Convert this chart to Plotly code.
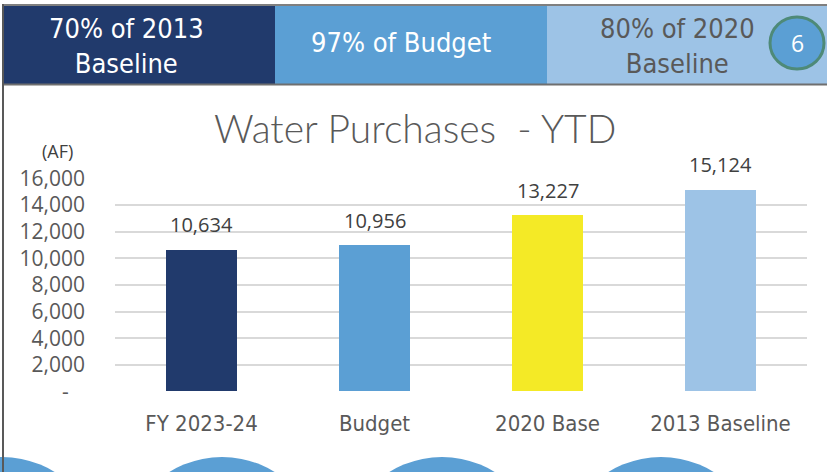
import plotly.graph_objects as go

categories = ["FY 2023-24", "Budget", "2020 Base", "2013 Baseline"]
values = [10634, 10956, 13227, 15124]
bar_colors = ["#213A6C", "#5B9FD4", "#F4EA26", "#9DC3E6"]
tick_vals = [0, 2000, 4000, 6000, 8000, 10000, 12000, 14000, 16000]
tick_text = ["-\u00a0\u00a0\u00a0", "2,000", "4,000", "6,000", "8,000", "10,000", "12,000", "14,000", "16,000"]
header_texts = ["70% of 2013<br>Baseline", "97% of Budget", "80% of 2020<br>Baseline"]
title_text = "Water Purchases  - YTD"
unit_text = "(AF)"
badge_text = "6"

W, H = 827, 472
def px(x):
    return x / W
def py(y):
    return 1 - y / H

NUM_FONT = "Open Sans, Lato, sans-serif"
NARROW = "Liberation Sans Narrow, DejaVu Sans Condensed, Arial Narrow, Open Sans, sans-serif"

fig = go.Figure()
fig.add_trace(go.Bar(
    x=categories, y=values, marker=dict(color=bar_colors, line=dict(width=0)),
    width=0.405, hoverinfo="skip", showlegend=False,
))

annotations = []
for c, v in zip(categories, values):
    annotations.append(dict(x=c, y=v, xref="x", yref="y", text=f"{v:,}", showarrow=False,
                            yanchor="middle", yshift=25,
                            font=dict(family=NUM_FONT, size=20, color="#404040")))

shapes = []
box_edges = [3, 275, 547, 827]
box_colors = ["#213A6C", "#5B9FD4", "#9DC3E6"]
text_colors = ["#FFFFFF", "#FFFFFF", "#595959"]
for i in range(3):
    shapes.append(dict(type="rect", xref="paper", yref="paper",
                       x0=px(box_edges[i]), x1=px(box_edges[i + 1]), y0=py(84), y1=py(6),
                       fillcolor=box_colors[i], line=dict(width=0), layer="below"))
centers = [127, 401, 677]
ycent = [46, 43, 46]
for i in range(3):
    annotations.append(dict(x=px(centers[i]), y=py(ycent[i]), xref="paper", yref="paper",
                            text=header_texts[i], showarrow=False, xanchor="center", yanchor="middle",
                            font=dict(family=NARROW, size=27, color=text_colors[i])))
shapes.append(dict(type="line", xref="paper", yref="paper", x0=px(3), x1=1, y0=py(5), y1=py(5),
                   line=dict(color="#7F7F7F", width=2)))
shapes.append(dict(type="line", xref="paper", yref="paper", x0=px(3), x1=1, y0=py(84.5), y1=py(84.5),
                   line=dict(color="#6F6F6F", width=2)))
shapes.append(dict(type="line", xref="paper", yref="paper", x0=px(3), x1=px(3), y0=py(4), y1=0,
                   line=dict(color="#595959", width=2)))
shapes.append(dict(type="circle", xref="paper", yref="paper",
                   x0=px(770), x1=px(824), y0=py(69), y1=py(17),
                   fillcolor="#5B9FD4", line=dict(color="#4E8A78", width=3)))
annotations.append(dict(x=px(797), y=py(43), xref="paper", yref="paper", text=badge_text,
                        showarrow=False, xanchor="center", yanchor="middle",
                        font=dict(family=NUM_FONT, size=23, color="#FFFFFF")))
for cx in [2, 222, 442, 661, 881]:
    shapes.append(dict(type="circle", xref="paper", yref="paper",
                       x0=px(cx - 100), x1=px(cx + 100), y0=py(657), y1=py(457),
                       fillcolor="#5B9FD4", line=dict(width=0), layer="below"))
annotations.append(dict(x=px(415), y=py(128), xref="paper", yref="paper", text=title_text,
                        showarrow=False, xanchor="center", yanchor="middle",
                        font=dict(family="Lato, Open Sans, sans-serif", size=39, color="#595959", weight=300)))
annotations.append(dict(x=px(57), y=py(151), xref="paper", yref="paper", text=unit_text,
                        showarrow=False, xanchor="center", yanchor="middle",
                        font=dict(family=NUM_FONT, size=18, color="#404040")))

fig.update_layout(
    width=W, height=H, margin=dict(l=0, r=0, t=0, b=0, autoexpand=False),
    paper_bgcolor="white", plot_bgcolor="white",
    shapes=shapes, annotations=annotations, bargap=0,
    xaxis=dict(domain=[px(115), px(807)], showgrid=False, zeroline=False, showline=False,
               tickfont=dict(family=NARROW, size=22, color="#595959"), ticks="",
               ticklabelstandoff=16, fixedrange=True, automargin=False),
    yaxis=dict(domain=[py(391.7), py(178.3)], range=[0, 16000], tickvals=tick_vals, ticktext=tick_text,
               showgrid=True, gridcolor="#D9D9D9", gridwidth=2, zeroline=False, showline=False,
               tickfont=dict(family=NUM_FONT, size=21, color="#595959"), ticks="",
               ticklabelstandoff=29, fixedrange=True, automargin=False),
)

fig.write_html("out.html", config={"displayModeBar": False},
               post_script="document.body.style.margin='0';")
